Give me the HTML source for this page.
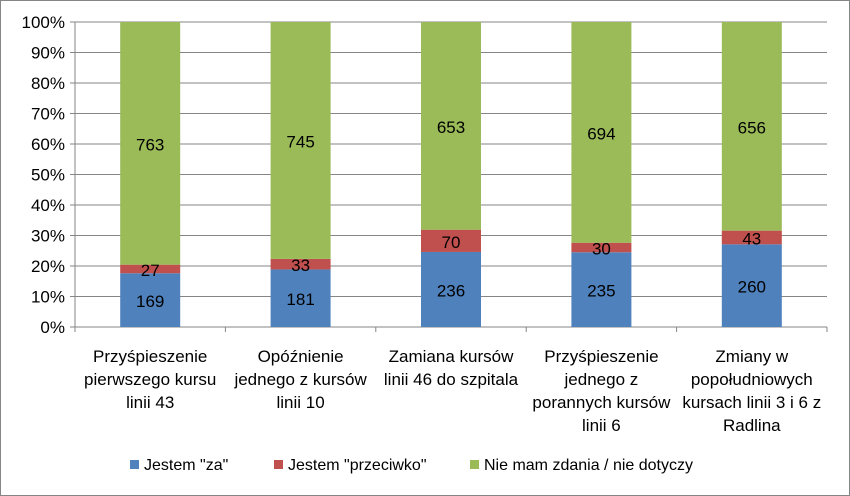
<!DOCTYPE html>
<html><head><meta charset="utf-8"><style>
body{margin:0;background:#fff}
svg{display:block;font-family:"Liberation Sans",sans-serif}
</style></head><body>
<svg id="c" width="850" height="496">
<rect x="0.5" y="0.5" width="849" height="495" fill="#fff" stroke="#868686"/>
<g id="grid"></g><g id="bars"></g><g id="labels"></g><g id="legend"></g>
</svg>
<script>
const categories=[["Przyśpieszenie","pierwszego kursu","linii 43"],["Opóźnienie","jednego z kursów","linii 10"],["Zamiana kursów","linii 46 do szpitala"],["Przyśpieszenie","jednego z","porannych kursów","linii 6"],["Zmiany w","popołudniowych","kursach linii 3 i 6 z","Radlina"]];
const seriesNames=["Jestem \"za\"","Jestem \"przeciwko\"","Nie mam zdania / nie dotyczy"];
const za=[169,181,236,235,260];
const przeciwko=[27,33,70,30,43];
const brak=[763,745,653,694,656];
const tickLabels=["0%","10%","20%","30%","40%","50%","60%","70%","80%","90%","100%"];
const colors=["#4f81bd","#c0504d","#9bbb59"];
const NS="http://www.w3.org/2000/svg";
const L=75,R=827,T=22,B=327,bw=60;
const cw=(R-L)/categories.length;
const xC=i=>L+cw*(i+0.5);
const y=p=>B-(B-T)*p;
function mk(tag,attrs,parent,text){const e=document.createElementNS(NS,tag);for(const k in attrs)e.setAttribute(k,attrs[k]);if(text!==undefined)e.textContent=text;document.getElementById(parent).appendChild(e);return e;}
tickLabels.forEach((t,i)=>{const yy=y(i/10);
 const g=mk('line',{x1:L,x2:R,y1:yy,y2:yy,stroke:'#868686','stroke-width':1},'grid');
 
 
 mk('line',{x1:L-5,x2:L,y1:yy,y2:yy,stroke:'#868686'},'grid');
 const tl=mk('text',{x:L-10,y:yy+6,'text-anchor':'end','font-size':17,fill:'#000'},'grid',t);
 
 
});
mk('line',{x1:L,x2:L,y1:T,y2:B,stroke:'#868686'},'grid');
for(let i=0;i<=categories.length;i++){mk('line',{x1:L+cw*i,x2:L+cw*i,y1:B,y2:B+5,stroke:'#868686'},'grid');}
const series=[za,przeciwko,brak];
categories.forEach((c,i)=>{
 const tot=za[i]+przeciwko[i]+brak[i];let acc=0;
 series.forEach((s,k)=>{const p0=acc/tot;acc+=s[i];const p1=acc/tot;
  const r=mk('rect',{x:xC(i)-bw/2,y:y(p1),width:bw,height:y(p0)-y(p1),fill:colors[k]},'bars');
  
  
  const t=mk('text',{x:xC(i),y:(y(p0)+y(p1))/2+7,'text-anchor':'middle','font-size':17,fill:'#000'},'bars',s[i]);
  
  
 });
 c.forEach((ln,j)=>{const t=mk('text',{x:xC(i),y:362+j*23,'text-anchor':'middle','font-size':17,fill:'#000'},'labels',ln);
  
  });
});
const lx=[130,274,470];
seriesNames.forEach((n,k)=>{
 const r=mk('rect',{x:lx[k],y:460,width:9,height:9,fill:colors[k]},'legend');
 
 
 const t=mk('text',{x:lx[k]+14,y:470,'font-size':16,fill:'#000'},'legend',n);
 
 
});
</script>
</body></html>
